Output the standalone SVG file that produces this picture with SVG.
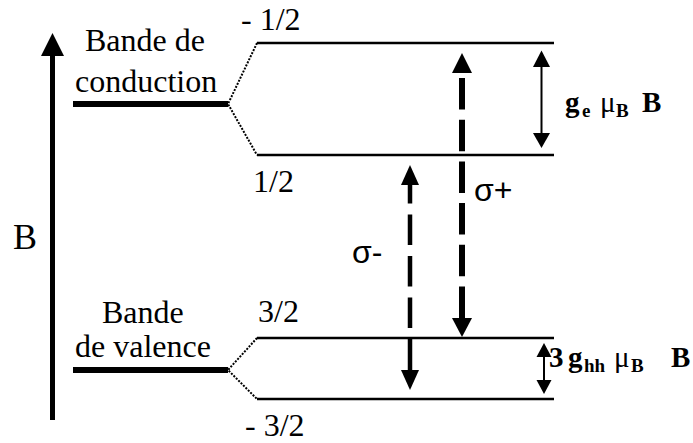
<svg xmlns="http://www.w3.org/2000/svg" width="693" height="443" viewBox="0 0 693 443">
<style>
.serif{font-family:"Liberation Serif","Times New Roman",serif;fill:#000}
.sans{font-family:"Liberation Sans",Arial,sans-serif;fill:#000}
.lbl{font-size:32px}
.band{stroke:#000;stroke-width:6;fill:none}
.level{stroke:#000;stroke-width:2.5;fill:none}
.dot{stroke:#000;stroke-width:2;stroke-dasharray:2 1.4;fill:none}
.head{fill:#000}
.bold{font-weight:bold;font-size:29px}
.sub{font-size:19px}
.mu{font-weight:normal}
</style>
<rect width="693" height="443" fill="#fff"/>

<g id="axis-B">
<line x1="52.5" y1="420" x2="52.5" y2="54" stroke="#000" stroke-width="5"/>
<polygon class="head" points="52.5,33 41,56 64,56"/>
<text class="serif" x="13" y="249" font-size="36">B</text>
</g>

<g id="conduction-band">
<line class="band" x1="73" y1="104" x2="228" y2="104"/>
<text class="serif lbl" x="85" y="51">Bande de</text>
<text class="serif lbl" x="75" y="92">conduction</text>
</g>

<g id="level-cb-minus-half">
<line class="level" x1="257" y1="43" x2="554" y2="43"/>
<text class="serif lbl" x="241" y="30">- 1/2</text>
</g>

<g id="level-cb-plus-half">
<line class="level" x1="257" y1="155" x2="554" y2="155"/>
<text class="serif lbl" x="253" y="192">1/2</text>
</g>

<g id="valence-band">
<line class="band" x1="73" y1="370" x2="228" y2="370"/>
<text class="serif lbl" x="102" y="323">Bande</text>
<text class="serif lbl" x="75" y="357">de valence</text>
</g>

<g id="level-vb-plus-3half">
<line class="level" x1="257" y1="338" x2="554" y2="338"/>
<text class="serif lbl" x="258" y="322">3/2</text>
</g>

<g id="level-vb-minus-3half">
<line class="level" x1="257" y1="399" x2="554" y2="399"/>
<text class="serif lbl" x="245" y="436">- 3/2</text>
</g>

<g id="connectors">
<path class="dot" d="M257,43 L228,104 L257,155"/>
<path class="dot" d="M257,338 L228,370 L257,399"/>

<g id="sigma-plus">
<line x1="462" y1="78" x2="462" y2="318" stroke="#000" stroke-width="6" stroke-dasharray="31.5 10.2"/>
<polygon class="head" points="462,53 452,73 472,73"/>
<polygon class="head" points="462,337 452,318 472,318"/>
</g>

<g id="sigma-minus">
<line x1="410" y1="328" x2="410" y2="185" stroke="#000" stroke-width="4.5" stroke-dasharray="30.5 11"/>
<line x1="410" y1="338" x2="410" y2="372" stroke="#000" stroke-width="4.5"/>
<polygon class="head" points="410,165 401,185 419,185"/>
<polygon class="head" points="410,390 401,370 419,370"/>
</g>

<g id="zeeman-cb">
<line x1="541.5" y1="66" x2="541.5" y2="134" stroke="#000" stroke-width="2"/>
<polygon class="head" points="541.5,50.5 533,67 550,67"/>
<polygon class="head" points="541.5,148 533,133 550,133"/>
</g>

<g id="zeeman-vb">
<line x1="544" y1="355" x2="544" y2="382" stroke="#000" stroke-width="2"/>
<polygon class="head" points="544,343 536.5,357 551.5,357"/>
<polygon class="head" points="544,394 536.5,380 551.5,380"/>
</g>
</g>

<g id="labels">
<text class="sans lbl" x="474" y="201">σ+</text>
<text class="sans lbl" x="352" y="263">σ-</text>
<text class="serif bold" y="112"><tspan x="565">g</tspan><tspan class="sub" x="582" dy="5">e</tspan><tspan class="mu" x="600" dy="-5">μ</tspan><tspan class="sub" x="616" dy="5">B</tspan><tspan x="642" dy="-5">B</tspan></text>
<text class="serif bold" y="367"><tspan x="549">3</tspan><tspan x="568">g</tspan><tspan class="sub" x="584" dy="5">hh</tspan><tspan class="mu" x="614" dy="-5">μ</tspan><tspan class="sub" x="631" dy="5">B</tspan><tspan x="671" dy="-5">B</tspan></text>
</g>
</svg>
